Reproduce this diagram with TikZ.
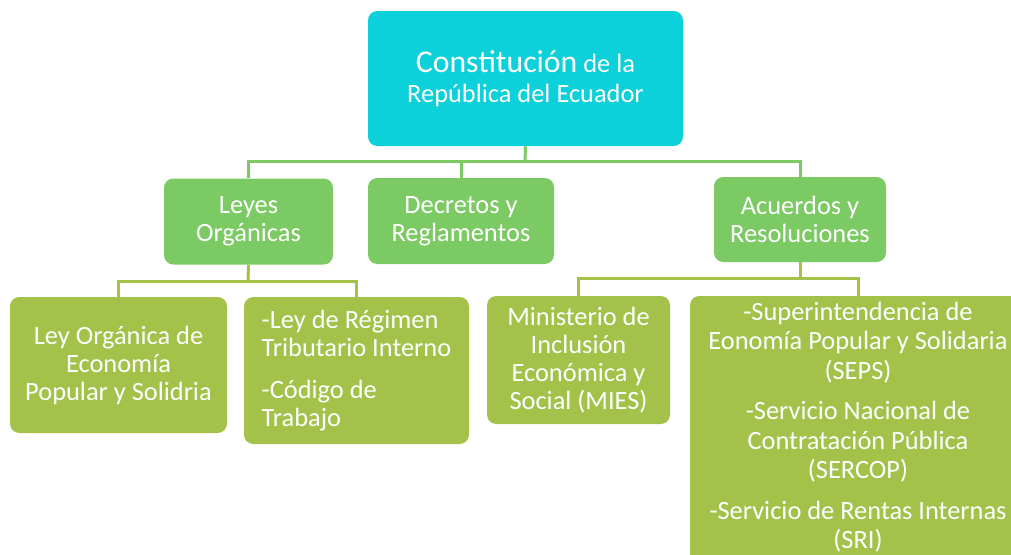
\documentclass[tikz,border=0pt]{standalone}
\usepackage{fontspec}
\setmainfont{Carlito}
\definecolor{cyanbox}{RGB}{12,208,218}
\definecolor{greenbox}{RGB}{124,202,100}
\definecolor{olivebox}{RGB}{164,194,74}

\begin{document}
\begin{tikzpicture}[x=0.75pt,y=-0.75pt,
    box/.style={rectangle,rounded corners=7pt,text=white,inner sep=0pt,align=center,
      font=\fontsize{19.8}{21}\selectfont},
    rootbox/.style={box,fill=cyanbox,minimum width=236.25pt,minimum height=101.25pt,
      font=\fontsize{19.8}{22.5}\selectfont},
    levelbox/.style={box,fill=greenbox,minimum height=64.5pt},
    leafbox/.style={box,fill=olivebox},
    link/.style={line width=2.25pt,draw=greenbox},
    sublink/.style={line width=2.25pt,draw=olivebox}]

  \useasboundingbox (0,0) rectangle (1011,554);
  \clip (0,0) rectangle (1011,554);

  % top
  \node[rootbox] (cre) at (525.5,78.5)
    {{\fontsize{23.8}{22.5}\selectfont Constitución} de la\\República del Ecuador};

  % second level
  \node[levelbox,minimum width=126.75pt] (leyes) at (248.5,221.5) {Leyes\\Orgánicas};
  \node[levelbox,minimum width=139.5pt] (decretos) at (461,221) {Decretos y\\Reglamentos};
  \node[levelbox,minimum width=129pt,minimum height=63.75pt] (acuerdos) at (800,219.5)
    {Acuerdos y\\Resoluciones};

  % third level
  \node[leafbox,minimum width=162.75pt,minimum height=102pt] (loeps) at (118.5,365)
    {Ley Orgánica de\\Economía\\Popular y Solidria};
  \node[leafbox,align=left,minimum width=168.75pt,minimum height=110.25pt] (codigos) at (356.5,370.5)
    {-Ley de Régimen\\Tributario Interno\\[11pt]-Código de\\Trabajo};
  \node[leafbox,minimum width=137.25pt,minimum height=96pt] (mies) at (578.5,360)
    {Ministerio de\\Inclusión\\Económica y\\Social (MIES)};
  \node[leafbox,minimum width=252pt,minimum height=205.5pt] (entes) at (858,433) {};
  \node[text=white,align=center,anchor=north,inner sep=0pt,
    font=\fontsize{19.8}{22}\selectfont] (entestxt) at (858,302)
    {-Superintendencia de\\Eonomía Popular y Solidaria\\(SEPS)\\[8.5pt]
     -Servicio Nacional de\\Contratación Pública\\(SERCOP)\\[8.5pt]
     -Servicio de Rentas Internas\\(SRI)};

  % connectors
  \coordinate (bus1) at (525,161);
  \coordinate (bus2) at (248,281);
  \coordinate (bus3) at (800,278);

  \draw[link] (cre.south) -- (bus1);
  \draw[link] (leyes.north) |- (bus1) -| (acuerdos.north);
  \draw[link] (decretos.north) -- (decretos.north |- bus1);

  \draw[sublink] (leyes.south) -- (bus2);
  \draw[sublink] (loeps.north) |- (bus2) -| (codigos.north);

  \draw[sublink] (acuerdos.south) -- (bus3);
  \draw[sublink] (mies.north) |- (bus3) -| (entes.north);

\end{tikzpicture}
\end{document}
